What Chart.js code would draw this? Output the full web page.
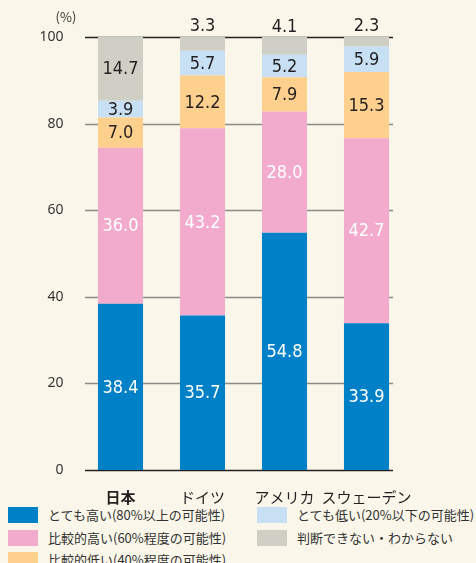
<!DOCTYPE html>
<html>
<head>
<meta charset="utf-8">
<script src="https://cdn.jsdelivr.net/npm/chart.js@4"></script>
<style>
  html, body { margin: 0; padding: 0; background: #faf7ea; }
  #wrap { position: relative; width: 476px; height: 563px; overflow: hidden; font-family: "Noto Sans CJK JP", sans-serif; }
  #chart { position: absolute; left: 0; top: 0; }
  .lg { position: absolute; font-size: 13px; color: #333; line-height: 16px; white-space: nowrap; }
  .lg span { display: inline-block; width: 30px; height: 16px; vertical-align: top; margin-right: 10px; }
</style>
</head>
<body>
<div id="wrap">
  <canvas id="chart" width="476" height="505"></canvas>
  <div id="legend"></div>
</div>
<script>
const countries = ['日本', 'ドイツ', 'アメリカ', 'スウェーデン'];
const veryHigh = [38.4, 35.7, 54.8, 33.9];
const fairlyHigh = [36.0, 43.2, 28.0, 42.7];
const fairlyLow = [7.0, 12.2, 7.9, 15.3];
const veryLow = [3.9, 5.7, 5.2, 5.9];
const unknown = [14.7, 3.3, 4.1, 2.3];
const yTicks = [0, 20, 40, 60, 80, 100];

const series = [
  { label: 'とても高い(80%以上の可能性)', data: veryHigh, color: '#0080c6', text: '#ffffff' },
  { label: '比較的高い(60%程度の可能性)', data: fairlyHigh, color: '#f2aacd', text: '#ffffff' },
  { label: '比較的低い(40%程度の可能性)', data: fairlyLow, color: '#fdd08d', text: '#231f20' },
  { label: 'とても低い(20%以下の可能性)', data: veryLow, color: '#c8e0f4', text: '#231f20' },
  { label: '判断できない・わからない', data: unknown, color: '#d0cfc6', text: '#231f20' }
];

// gridlines only span part of the plot, so draw them ourselves
const gridPlugin = {
  id: 'grid',
  beforeDatasetsDraw(chart) {
    const c = chart.ctx, y = chart.scales.y;
    c.save();
    yTicks.forEach(v => {
      const py = Math.round(y.getPixelForValue(v)) + 0.5;
      c.beginPath();
      c.moveTo(85, py);
      c.lineTo(393, py);
      c.lineWidth = 1.5;
      c.strokeStyle = (v === 0 || v === 100) ? '#231f20' : '#8a8a86';
      c.stroke();
    });
    c.fillStyle = '#333';
    c.font = '13px "Noto Sans CJK JP", sans-serif';
    c.textAlign = 'center';
    c.textBaseline = 'middle';
    c.fillText('(%)', 66, 17);
    c.restore();
  }
};

const valuePlugin = {
  id: 'values',
  afterDatasetsDraw(chart) {
    const c = chart.ctx;
    c.save();
    c.font = '500 18px "DejaVu Sans Condensed", "Roboto", sans-serif';
    c.textAlign = 'center';
    c.textBaseline = 'middle';
    chart.data.datasets.forEach((ds, di) => {
      chart.getDatasetMeta(di).data.forEach((bar, i) => {
        const v = ds.data[i];
        let ty = (bar.y + bar.base) / 2;
        let col = series[di].text;
        // small "don't know" shares sit above the bar
        if (di === 4 && v < 5) { ty = bar.y - 11; col = '#231f20'; }
        c.fillStyle = col;
        c.fillText(v.toFixed(1), bar.x, ty + 1);
      });
    });
    c.restore();
  }
};

new Chart(document.getElementById('chart'), {
  type: 'bar',
  data: {
    labels: countries,
    datasets: series.map(s => ({
      label: s.label,
      data: s.data,
      backgroundColor: s.color,
      borderWidth: 0,
      barPercentage: 0.55,
      categoryPercentage: 1.0
    }))
  },
  options: {
    responsive: false,
    animation: false,
    layout: { padding: { top: 37, right: 68.5, left: 0, bottom: 0 } },
    plugins: { legend: { display: false }, tooltip: { enabled: false } },
    scales: {
      x: {
        stacked: true,
        grid: { display: false },
        border: { display: false },
        afterFit(s) { s.height = 35; },
        ticks: {
          padding: 10,
          autoSkip: false,
          maxRotation: 0,
          minRotation: 0,
          color: '#231f20',
          font: ctx => ({ size: 15, family: '"Noto Sans CJK JP", sans-serif', weight: ctx.index === 0 ? 'bold' : 'normal' })
        }
      },
      y: {
        stacked: true,
        min: 0,
        max: 100,
        grid: { display: false },
        border: { display: false },
        afterFit(s) { s.width = 79.5; },
        afterBuildTicks(s) { s.ticks = yTicks.map(v => ({ value: v })); },
        ticks: {
          padding: 8,
          color: '#333',
          font: { size: 14, family: '"Noto Sans", sans-serif' }
        }
      }
    }
  },
  plugins: [gridPlugin, valuePlugin]
});

// two-column legend under the chart
const pos = [[8, 507], [8, 530], [8, 552], [257, 507], [257, 530]];
document.getElementById('legend').innerHTML = series.map((s, n) =>
  '<div class="lg" style="left:' + pos[n][0] + 'px;top:' + pos[n][1] + 'px"><span style="background:' +
  s.color + '"></span>' + s.label + '</div>').join('');
</script>
</body>
</html>
